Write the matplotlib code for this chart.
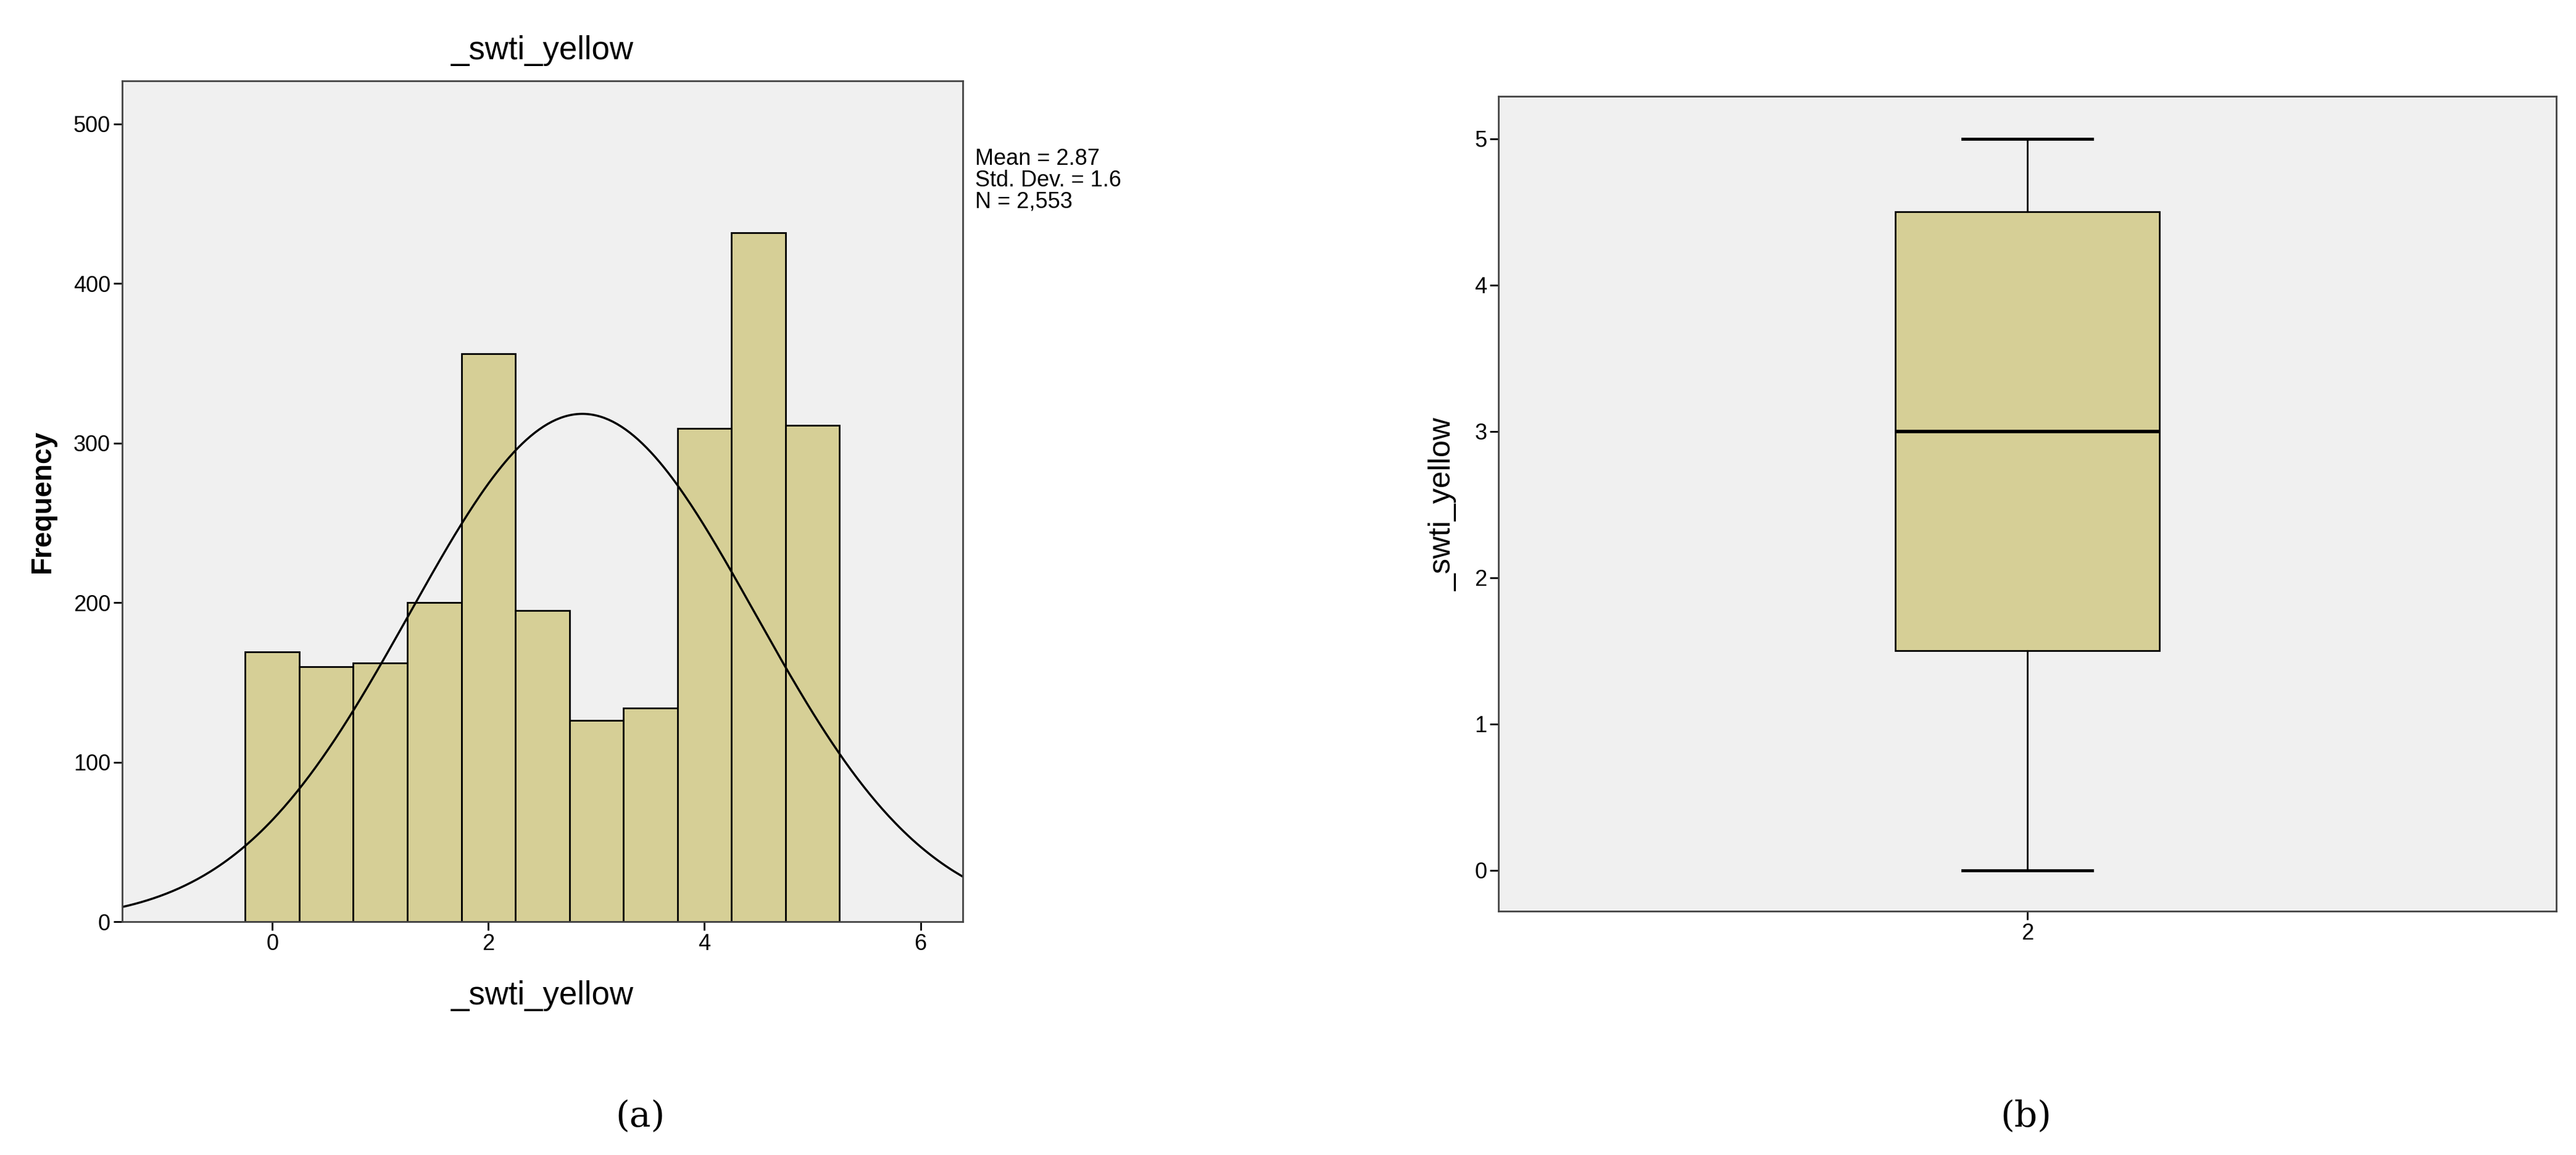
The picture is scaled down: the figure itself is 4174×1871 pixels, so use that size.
import numpy as np
import matplotlib.pyplot as plt

plt.rcParams['font.family'] = ['Liberation Sans', 'DejaVu Sans']

# histogram data (bin edges -0.25 .. 5.25, width 0.5)
bin_edges = [-0.25, 0.25, 0.75, 1.25, 1.75, 2.25, 2.75, 3.25, 3.75, 4.25, 4.75, 5.25]
counts = [169, 160, 162, 200, 356, 195, 126, 134, 309, 432, 311]
mean, sd, n = 2.87, 1.6, 2553

# boxplot summary
box_q1, box_med, box_q3 = 1.5, 3.0, 4.5
whisk_lo, whisk_hi = 0.0, 5.0

BAR = '#D6CF96'
BG = '#F0F0F0'

fig = plt.figure(figsize=(41.74, 18.71), dpi=100)

# (a) histogram
ax1 = fig.add_axes([0.0474, 0.202, 0.3263, 0.728])
ax1.set_facecolor(BG)
widths = np.diff(bin_edges)
ax1.bar(bin_edges[:-1], counts, width=widths, align='edge', color=BAR,
        edgecolor='black', linewidth=2)
xs = np.linspace(-1.39, 6.39, 400)
pdf = np.exp(-0.5 * ((xs - mean) / sd) ** 2) / (sd * np.sqrt(2 * np.pi))
ax1.plot(xs, n * 0.5 * pdf, color='black', linewidth=2.5)
ax1.set_xlim(-1.39, 6.39)
ax1.set_ylim(0, 527)
ax1.set_xticks([0, 2, 4, 6])
ax1.set_yticks([0, 100, 200, 300, 400, 500])
ax1.tick_params(labelsize=26, length=10, width=2)
ax1.set_title('_swti_yellow', fontsize=38, pad=25)
ax1.set_xlabel('_swti_yellow', fontsize=38, labelpad=30)
ax1.set_ylabel('Frequency', fontsize=33, fontweight='bold', labelpad=20)
for s in ax1.spines.values():
    s.set_linewidth(2)
    s.set_color('#444444')
ax1.text(1.015, 0.92, f'Mean = {mean}\nStd. Dev. = {sd}\nN = {n:,}',
         transform=ax1.transAxes, fontsize=26, va='top', ha='left', linespacing=1.0)
fig.text(0.2485, 0.033, '(a)', fontsize=42, family='DejaVu Serif', ha='center', va='center')

# (b) boxplot
ax2 = fig.add_axes([0.5817, 0.211, 0.4106, 0.7055])
ax2.set_facecolor(BG)
stats = [dict(med=box_med, q1=box_q1, q3=box_q3, whislo=whisk_lo, whishi=whisk_hi,
              fliers=[], label='2')]
ax2.bxp(stats, positions=[0.5], widths=0.25, patch_artist=True, showfliers=False,
        boxprops=dict(facecolor=BAR, edgecolor='black', linewidth=2),
        medianprops=dict(color='black', linewidth=4),
        whiskerprops=dict(color='black', linewidth=2),
        capprops=dict(color='black', linewidth=3.5), capwidths=0.123)
ax2.set_xlim(0, 1)
ax2.set_ylim(-0.28, 5.29)
ax2.set_yticks([0, 1, 2, 3, 4, 5])
ax2.tick_params(labelsize=26, length=10, width=2)
ax2.set_ylabel('_swti_yellow', fontsize=36, labelpad=20)
for s in ax2.spines.values():
    s.set_linewidth(2)
    s.set_color('#444444')
fig.text(0.7866, 0.033, '(b)', fontsize=42, family='DejaVu Serif', ha='center', va='center')

fig.savefig('out.png', dpi=100)
